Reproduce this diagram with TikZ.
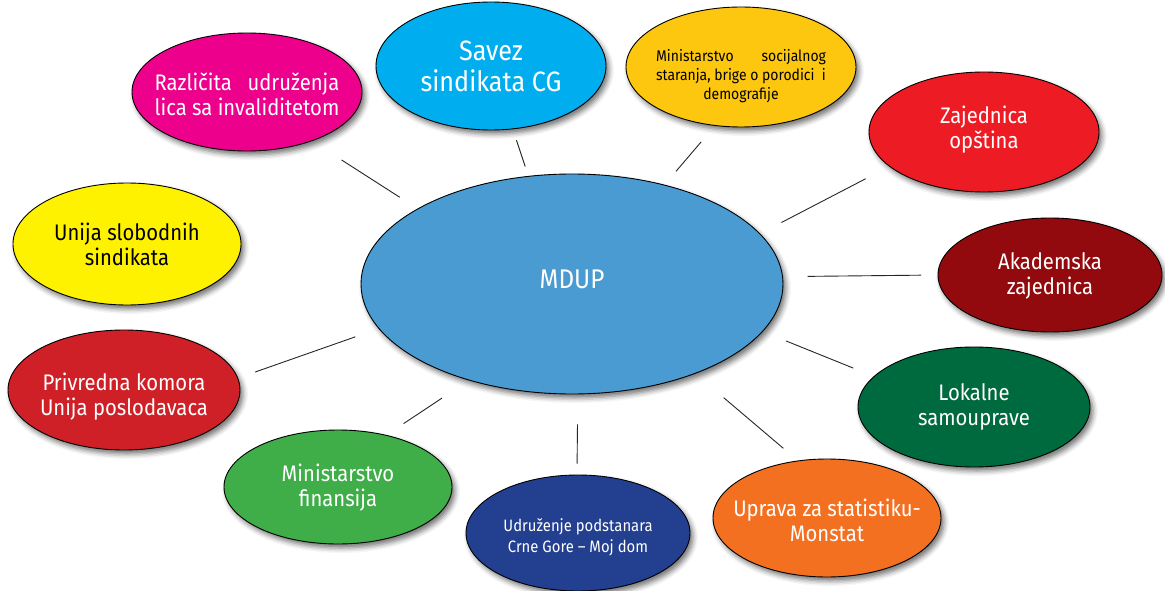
\documentclass[tikz,border=0pt]{standalone}
\usepackage{fontspec}
\usepackage{calc}
\setmainfont{Fira Sans}[FakeStretch=0.9]
\usetikzlibrary{shapes.geometric,shadows.blur}

\definecolor{cMdup}{HTML}{4A9BD1}
\definecolor{cSavez}{HTML}{00AEEF}
\definecolor{cSoc}{HTML}{FDC70F}
\definecolor{cZaj}{HTML}{ED1C24}
\definecolor{cAkad}{HTML}{920A0E}
\definecolor{cLok}{HTML}{006A3F}
\definecolor{cUpr}{HTML}{F37021}
\definecolor{cUdr}{HTML}{233F8F}
\definecolor{cFin}{HTML}{3FAE49}
\definecolor{cPriv}{HTML}{D02027}
\definecolor{cUnija}{HTML}{FFF200}
\definecolor{cRazl}{HTML}{EC008C}

% stretch a line to the width of a reference line
\newcommand\spreadline[2]{\makebox[\widthof{#2}][s]{#1}}
% centred block of lines, dropped by #1 pt inside its bubble;
% it reports no width, so the bubble keeps its own size
\newcommand\btext[2]{\makebox[0pt]{\raisebox{-#1pt}[\height][\depth]{\begin{tabular}{@{}c@{}}#2\end{tabular}}}}

\tikzset{
  bubble/.style={ellipse, draw=black, line width=0.9pt, inner sep=0pt,
    text=white,
    font=\fontsize{22.5}{24.5}\selectfont,
    blur shadow={shadow xshift=3pt, shadow yshift=-4pt,
      shadow blur radius=5pt, shadow opacity=55}},
  size/.style 2 args={minimum width=#1pt, minimum height=#2pt},
  link/.style={draw=black!85, line width=0.9pt},
}

\begin{document}
\begin{tikzpicture}[x=1pt, y=-1pt]
\useasboundingbox (0,0) rectangle (1165,591);

% central body
\node[bubble, size={422}{220}, fill=cMdup, font=\fontsize{27}{30}\selectfont]
  (mdup) at (572,284) {\btext{-2}{MDUP}};

% surrounding partners
\node[bubble, size={230}{128}, fill=cSavez, font=\fontsize{28}{31}\selectfont]
  (savez) at (491,66) {\btext{3.5}{Savez\\sindikata CG}};
\node[bubble, size={230}{120}, fill=cSoc, text=black, font=\fontsize{15.5}{19}\selectfont]
  (soc) at (741,67)
  {\btext{9.5}{\spreadline{Ministarstvo socijalnog}{staranja, brige o porodici\ \ i}\\
   staranja, brige o porodici\ \ i\\demografije}};
\node[bubble, size={230}{120}, fill=cZaj]
  (zaj) at (984,132) {\btext{-1.5}{Zajednica\\opština}};
\node[bubble, size={224}{114}, fill=cAkad]
  (akad) at (1050,275) {\btext{2.5}{Akademska\\zajednica}};
\node[bubble, size={232}{120}, fill=cLok]
  (lok) at (974,407) {\btext{1}{Lokalne\\samouprave}};
\node[bubble, size={228}{118}, fill=cUpr]
  (upr) at (827,518) {\btext{6}{Uprava za statistiku-\\Monstat}};
\node[bubble, size={224}{116}, fill=cUdr, font=\fontsize{16.5}{21}\selectfont]
  (udr) at (578,533) {\btext{4.5}{Udruženje podstanara\\Crne Gore – Moj dom}};
\node[bubble, size={228}{114}, fill=cFin]
  (fin) at (338,487) {\btext{2}{Ministarstvo\\finansija}};
\node[bubble, size={232}{120}, fill=cPriv]
  (priv) at (124,390) {\btext{8}{Privredna komora\\Unija poslodavaca}};
\node[bubble, size={228}{122}, fill=cUnija, text=black]
  (unija) at (127,244) {\btext{3.5}{Unija slobodnih\\sindikata}};
\node[bubble, size={230}{118}, fill=cRazl]
  (razl) at (247,92)
  {\btext{6}{\spreadline{Različita udruženja}{lica sa invaliditetom}\\lica sa invaliditetom}};

% connectors, kept clear of the bubbles
\draw[link, shorten <=10pt, shorten >=11.5pt] (mdup.112.8) -- (savez.-71);
\draw[link, shorten <=17.5pt, shorten >=21pt] (mdup.47.3) -- (soc.246.5);
\draw[link, shorten <=24pt, shorten >=26.5pt] (mdup.15) -- (zaj.200.5);
\draw[link, shorten <=24.7pt, shorten >=16.5pt] (mdup.2.45) -- (akad.180);
\draw[link, shorten <=25pt, shorten >=22pt] (mdup.-14.5) -- (lok.163.4);
\draw[link, shorten <=37pt, shorten >=18.8pt] (mdup.-36.9) -- (upr.117.3);
\draw[link, shorten <=30pt, shorten >=11pt] (mdup.-87.4) -- (udr.91);
\draw[link, shorten <=32pt, shorten >=20.5pt] (mdup.223.4) -- (fin.47.4);
\draw[link, shorten <=24.7pt, shorten >=18pt] (mdup.193.1) -- (priv.6);
\draw[link, shorten <=21pt, shorten >=35pt] (mdup.154.4) -- (razl.-37);
\end{tikzpicture}
\end{document}
